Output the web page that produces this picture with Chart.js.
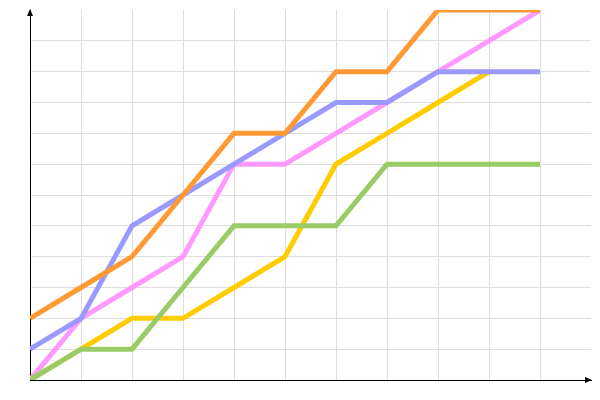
<!DOCTYPE html>
<html>
<head>
<meta charset="utf-8">
<script src="https://cdn.jsdelivr.net/npm/chart.js@4/dist/chart.umd.min.js"></script>
<style>
  html, body { margin: 0; padding: 0; background: #fff; }
  #wrap { width: 600px; height: 400px; }
</style>
</head>
<body>
<div id="wrap"><canvas id="c"></canvas></div>
<script>
const xValues = [0, 1, 2, 3, 4, 5, 6, 7, 8, 9, 10];
const orangeValues = [2, 3, 4, 6, 8, 8, 10, 10, 12, 12, 12];
const blueValues = [1, 2, 5, 6, 7, 8, 9, 9, 10, 10, 10];
const greenValues = [0, 1, 1, 3, 5, 5, 5, 7, 7, 7, 7];
const yellowValues = [0, 1, 2, 2, 3, 4, 7, 8, 9, 10];
const pinkValues = [0, 2, 3, 4, 7, 7, 8, 9, 10, 11, 12];

function toPoints(values) {
    return values.map((v, i) => ({ x: xValues[i], y: v }));
}

function makeDataset(values, color) {
    return {
        data: toPoints(values),
        borderColor: color,
        backgroundColor: color,
        borderWidth: 5,
        pointRadius: 0,
        tension: 0,
        fill: false,
    };
}

// hide the grid line on the far edge, like the original
function gridColor(ctx) {
    return ctx.tick.value === ctx.scale.max ? 'rgba(0,0,0,0)' : '#dddddd';
}

const arrowPlugin = {
    id: 'arrows',
    afterDraw(chart) {
        const { ctx, chartArea } = chart;
        ctx.save();
        ctx.fillStyle = '#000';
        // y arrow
        ctx.beginPath();
        ctx.moveTo(chartArea.left, chartArea.top - 1);
        ctx.lineTo(chartArea.left - 3, chartArea.top + 6);
        ctx.lineTo(chartArea.left + 3, chartArea.top + 6);
        ctx.closePath();
        ctx.fill();
        // x arrow
        ctx.beginPath();
        ctx.moveTo(chartArea.right + 1, chartArea.bottom);
        ctx.lineTo(chartArea.right - 6, chartArea.bottom - 3);
        ctx.lineTo(chartArea.right - 6, chartArea.bottom + 3);
        ctx.closePath();
        ctx.fill();
        ctx.restore();
    }
};

const chart = new Chart(document.getElementById('c'), {
    type: 'line',
    data: {
        datasets: [
            makeDataset(orangeValues, '#FF9933'),
            makeDataset(blueValues, '#9999FF'),
            makeDataset(greenValues, '#99CC66'),
            makeDataset(yellowValues, '#FFCC00'),
            makeDataset(pinkValues, '#FF99FF'),
        ],
    },
    options: {
        animation: false,
        responsive: true,
        maintainAspectRatio: false,
        layout: {
            padding: { left: 30, right: 9, top: 10, bottom: 20 }
        },
        plugins: {
            legend: { display: false },
            tooltip: { enabled: false },
        },
        scales: {
            x: {
                type: 'linear',
                min: 0,
                max: 11,
                ticks: { display: false, stepSize: 1 },
                grid: { color: gridColor, drawTicks: false, lineWidth: 1 },
                border: { color: '#000', width: 1 },
            },
            y: {
                type: 'linear',
                min: 0,
                max: 12,
                ticks: { display: false, stepSize: 1 },
                grid: { color: gridColor, drawTicks: false, lineWidth: 1 },
                border: { color: '#000', width: 1 },
            },
        },
    },
    plugins: [arrowPlugin],
});
</script>
</body>
</html>
